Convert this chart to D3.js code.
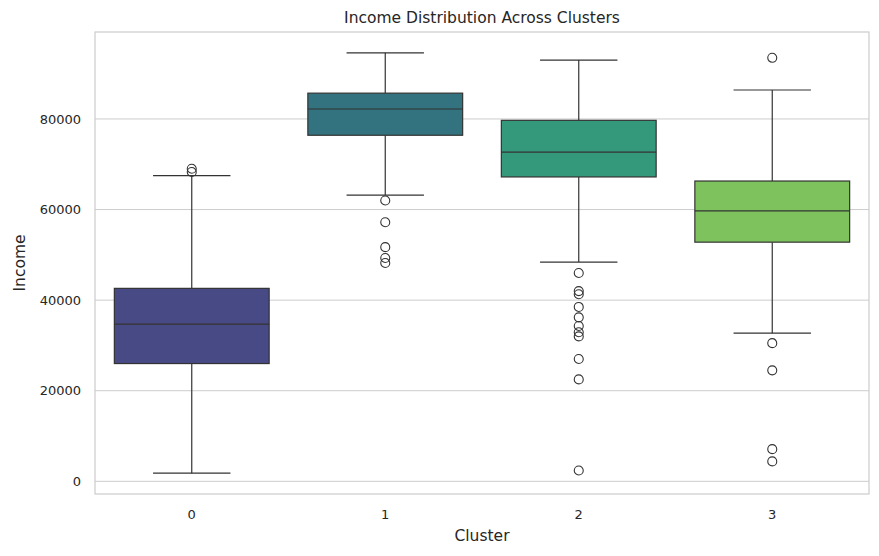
<!DOCTYPE html>
<html><head><meta charset="utf-8">
<script src="https://cdn.jsdelivr.net/npm/d3@7"></script>
<style>body{margin:0;background:#fff;font-family:"DejaVu Sans",sans-serif;}</style>
</head><body><div id="chart"></div>
<script>
// box stats
var clusters = ["0", "1", "2", "3"];
var q1 = [26000, 76400, 67200, 52800];
var medians = [34700, 82200, 72700, 59700];
var q3 = [42600, 85700, 79700, 66300];
var whiskLow = [1800, 63200, 48400, 32700];
var whiskHigh = [67500, 94600, 93000, 86400];
var outliers = [
    [68300, 69000],
    [62000, 57200, 51700, 49300, 48200],
    [46000, 42000, 41300, 38500, 36200, 34300, 32900, 32000, 27000, 22500, 2400],
    [93500, 30500, 24500, 7100, 4400]
];
var colors = ["#484a85", "#32737f", "#34997a", "#7ec25e"];
var yTicks = [0, 20000, 40000, 60000, 80000];

var W = 879, H = 556;
var m = {left: 95, right: 10, top: 32, bottom: 62};
var svg = d3.select("#chart").append("svg").attr("width", W).attr("height", H);

var x = d3.scaleBand().domain(clusters).range([m.left, W - m.right]);
var y = d3.scaleLinear().domain([-2800, 99200]).range([H - m.bottom, m.top]);

// grid
svg.append("g").selectAll("line").data(yTicks).enter().append("line")
    .attr("x1", m.left).attr("x2", W - m.right)
    .attr("y1", d => y(d)).attr("y2", d => y(d))
    .attr("stroke", "#cccccc").attr("stroke-width", 1);

svg.append("rect").attr("x", m.left).attr("y", m.top)
    .attr("width", W - m.left - m.right).attr("height", H - m.top - m.bottom)
    .attr("fill", "none").attr("stroke", "#cccccc").attr("stroke-width", 1.2);

var bw = x.bandwidth() * 0.8;
var g = svg.append("g").selectAll("g").data(clusters).enter().append("g")
    .attr("transform", d => "translate(" + (x(d) + x.bandwidth() / 2) + ",0)");

g.append("line").attr("y1", (d, i) => y(whiskLow[i])).attr("y2", (d, i) => y(q1[i]))
    .attr("stroke", "#333").attr("stroke-width", 1.2);
g.append("line").attr("y1", (d, i) => y(q3[i])).attr("y2", (d, i) => y(whiskHigh[i]))
    .attr("stroke", "#333").attr("stroke-width", 1.2);
g.append("line").attr("x1", -bw / 4).attr("x2", bw / 4)
    .attr("y1", (d, i) => y(whiskLow[i])).attr("y2", (d, i) => y(whiskLow[i]))
    .attr("stroke", "#333").attr("stroke-width", 1.2);
g.append("line").attr("x1", -bw / 4).attr("x2", bw / 4)
    .attr("y1", (d, i) => y(whiskHigh[i])).attr("y2", (d, i) => y(whiskHigh[i]))
    .attr("stroke", "#333").attr("stroke-width", 1.2);
g.append("rect").attr("x", -bw / 2).attr("width", bw)
    .attr("y", (d, i) => y(q3[i])).attr("height", (d, i) => y(q1[i]) - y(q3[i]))
    .attr("fill", (d, i) => colors[i]).attr("stroke", "#333").attr("stroke-width", 1.2);
g.append("line").attr("x1", -bw / 2).attr("x2", bw / 2)
    .attr("y1", (d, i) => y(medians[i])).attr("y2", (d, i) => y(medians[i]))
    .attr("stroke", "#333").attr("stroke-width", 1.2);
g.each(function (d, i) {
    d3.select(this).selectAll("circle").data(outliers[i]).enter().append("circle")
        .attr("cy", v => y(v)).attr("r", 4.5)
        .attr("fill", "none").attr("stroke", "#333").attr("stroke-width", 1.1);
});

// axes
svg.append("g").selectAll("text").data(yTicks).enter().append("text")
    .attr("x", m.left - 14).attr("y", d => y(d)).attr("dy", "0.35em")
    .attr("text-anchor", "end").attr("font-size", 13).attr("fill", "#262626")
    .text(d => d);
svg.append("g").selectAll("text").data(clusters).enter().append("text")
    .attr("x", d => x(d) + x.bandwidth() / 2).attr("y", H - m.bottom + 25)
    .attr("text-anchor", "middle").attr("font-size", 13).attr("fill", "#262626")
    .text(d => d);

svg.append("text").attr("x", (m.left + W - m.right) / 2).attr("y", 541)
    .attr("text-anchor", "middle").attr("font-size", 15.5).attr("fill", "#262626").text("Cluster");
svg.append("text").attr("transform", "translate(25," + ((m.top + H - m.bottom) / 2) + ") rotate(-90)")
    .attr("text-anchor", "middle").attr("font-size", 15.5).attr("fill", "#262626").text("Income");
svg.append("text").attr("x", (m.left + W - m.right) / 2).attr("y", 23)
    .attr("text-anchor", "middle").attr("font-size", 15.5).attr("fill", "#262626")
    .text("Income Distribution Across Clusters");
</script></body></html>
